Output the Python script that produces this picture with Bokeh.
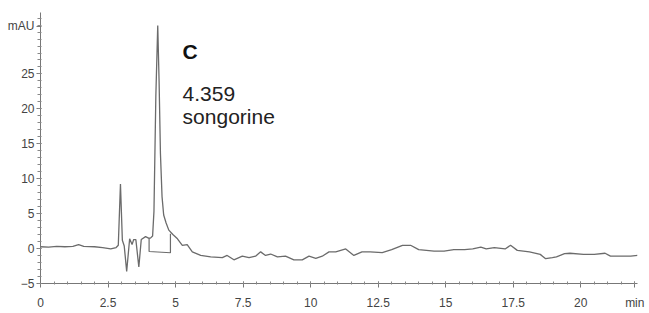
from bokeh.plotting import figure
from bokeh.models import Range1d, FixedTicker
from bokeh.core.properties import value
from bokeh.embed import file_html
from bokeh.resources import INLINE

# Chromatogram trace (time in min, absorbance in mAU)
time_min = [0.0, 0.3, 0.6, 0.9, 1.2, 1.41, 1.6, 2.0, 2.3, 2.6, 2.8, 2.88, 2.96, 3.03, 3.1,
            3.19, 3.3, 3.39, 3.45, 3.53, 3.64, 3.73, 3.89, 4.0, 4.07, 4.15, 4.2, 4.27, 4.34,
            4.39, 4.44, 4.5, 4.56, 4.65, 4.75, 4.9, 5.07, 5.25, 5.43, 5.62, 5.93, 6.3, 6.73,
            6.91, 7.16, 7.47, 7.72, 7.96, 8.15, 8.33, 8.52, 8.77, 9.07, 9.38, 9.69, 9.94,
            10.19, 10.43, 10.68, 10.93, 11.3, 11.6, 11.9, 12.2, 12.65, 13.0, 13.4, 13.7,
            14.0, 14.57, 14.94, 15.3, 15.7, 16.0, 16.3, 16.5, 16.8, 17.2, 17.4, 17.65, 18.1,
            18.5, 18.7, 18.95, 19.1, 19.4, 19.6, 20.1, 20.5, 20.9, 21.1, 21.5, 21.85, 22.1]
mau = [0.26, 0.21, 0.31, 0.26, 0.31, 0.57, 0.31, 0.26, 0.15, -0.05, 0.15, 0.47, 9.26, 1.19, 0.36,
       -3.26, 1.40, 0.57, 1.29, 1.29, -2.64, 1.29, 1.71, 1.50, 1.50, 1.81, 5.33, 21.89, 31.93,
       23.96, 13.61, 7.40, 4.81, 3.67, 2.64, 2.02, 1.40, 0.47, 0.57, -0.47, -0.98, -1.19, -1.29,
       -0.98, -1.61, -1.09, -1.29, -1.09, -0.47, -0.98, -0.78, -1.19, -1.09, -1.61, -1.61, -1.09,
       -1.40, -1.09, -0.47, -0.47, -0.05, -0.98, -0.47, -0.47, -0.57, -0.16, 0.47, 0.47,
       -0.16, -0.36, -0.36, -0.16, -0.16, -0.05, 0.21, -0.05, 0.15, -0.05, 0.47, -0.26, -0.47,
       -0.83, -1.45, -1.29, -1.19, -0.73, -0.67, -0.83, -0.83, -0.67, -1.09, -1.09, -1.09, -0.98]

# Integration baseline drawn under the main peak
base_t = [4.02, 4.02, 4.81, 4.81]
base_v = [1.50, -0.42, -0.60, 2.12]

x_ticks = [0, 2.5, 5, 7.5, 10, 12.5, 15, 17.5, 20]
y_ticks = [-5, 0, 5, 10, 15, 20, 25]
x_unit, x_unit_pos = "min", 22
y_unit, y_unit_pos = "mAU", 31.8

peak_letter = "C"
peak_time_label = "4.359"
peak_name = "songorine"

p = figure(width=648, height=312, output_backend="svg", toolbar_location=None,
           x_range=Range1d(0, 22.1), y_range=Range1d(-5, 33.8),
           min_border_left=40, min_border_right=11, min_border_top=12, min_border_bottom=27)
p.outline_line_color = None
p.grid.visible = False
p.background_fill_color = "white"

trace_col = "#6b6b6b"
p.line(time_min, mau, line_color=trace_col, line_width=1.3)
p.line(base_t, base_v, line_color=trace_col, line_width=1.2)

for ax in (p.xaxis[0], p.yaxis[0]):
    ax.axis_line_color = "#777777"
    ax.major_tick_line_color = "#777777"
    ax.minor_tick_line_color = "#888888"
    ax.major_label_text_color = "#444444"
    ax.major_label_text_font = "Liberation Sans"
    ax.major_label_text_font_size = "12px"

# unit names are shown at the axis ends, as in the instrument printout
p.xaxis.ticker = FixedTicker(ticks=x_ticks + [x_unit_pos], minor_ticks=[i * 0.5 for i in range(45)])
p.xaxis.major_label_overrides = {x_unit_pos: x_unit}
p.xaxis.major_tick_in = 2
p.xaxis.major_tick_out = 4
p.xaxis.minor_tick_in = 2
p.xaxis.minor_tick_out = 1
p.xaxis.major_label_standoff = 8

p.yaxis.ticker = FixedTicker(ticks=y_ticks + [y_unit_pos], minor_ticks=list(range(-5, 34)))
p.yaxis.major_label_overrides = {y_unit_pos: y_unit}
p.yaxis.major_tick_in = 1
p.yaxis.major_tick_out = 4
p.yaxis.minor_tick_in = 1
p.yaxis.minor_tick_out = 3
p.yaxis.major_label_standoff = 2

# Peak annotations
p.text(x=[5.26], y=[28.2], text=[peak_letter], text_font=value("Liberation Sans"),
       text_font_size="21px", text_font_style="bold", text_color="#111111",
       text_baseline="alphabetic")
p.text(x=[5.26, 5.26], y=[22.1, 18.9], text=[peak_time_label, peak_name],
       text_font=value("Liberation Sans"), text_font_size="21px", text_color="#222222",
       text_baseline="alphabetic")

open("out.html", "w").write(file_html(p, INLINE))
